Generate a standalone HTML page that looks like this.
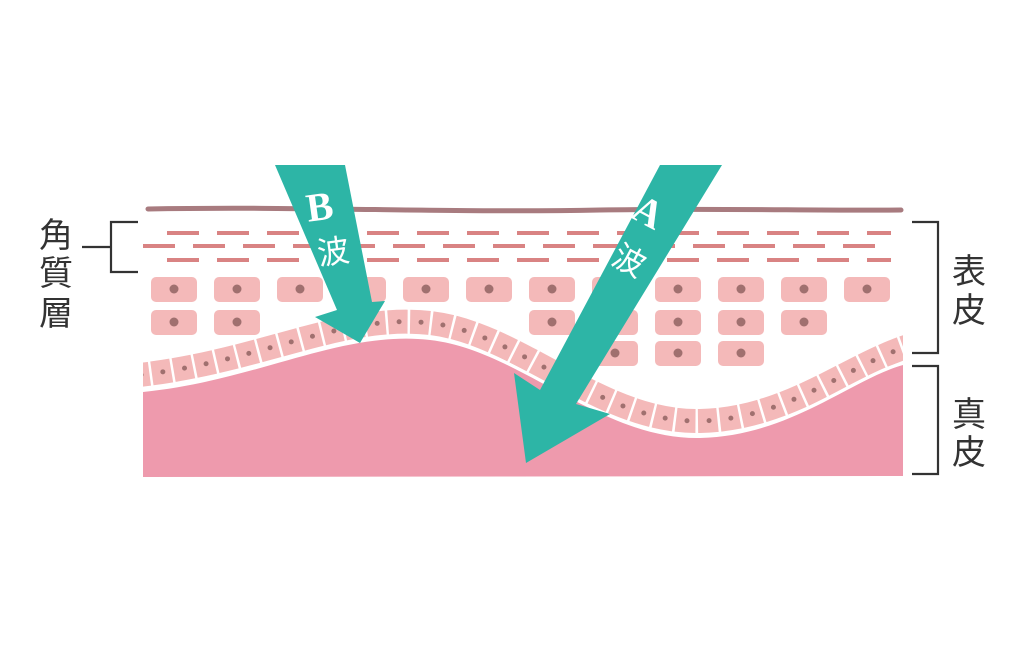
<!DOCTYPE html>
<html><head><meta charset="utf-8"><style>
html,body{margin:0;padding:0;background:#fff;}
svg{display:block}
</style></head><body>
<svg width="1024" height="646" viewBox="0 0 1024 646" xmlns="http://www.w3.org/2000/svg">
<defs><clipPath id="c"><rect x="143" y="280" width="760" height="200"/></clipPath></defs>
<rect width="1024" height="646" fill="#fff"/>
<path d="M148,209 C300,206 450,213 600,210 C720,208 820,211 901,210" stroke="#a87b7f" stroke-width="5" fill="none" stroke-linecap="round"/>
<g stroke="#d98383" stroke-width="4">
<path d="M167,233h32M217,233h32M267,233h32M317,233h32M367,233h32M417,233h32M467,233h32M517,233h32M567,233h32M617,233h32M667,233h32M717,233h32M767,233h32M817,233h32M867,233h24"/>
<path d="M143,246h32M193,246h32M243,246h32M293,246h32M343,246h32M393,246h32M443,246h32M493,246h32M543,246h32M593,246h32M643,246h32M693,246h32M743,246h32M793,246h32M843,246h32"/>
<path d="M167,260h32M217,260h32M267,260h32M317,260h32M367,260h32M417,260h32M467,260h32M517,260h32M567,260h32M617,260h32M667,260h32M717,260h32M767,260h32M817,260h32M867,260h24"/>
</g>
<g fill="#f4b9b9">
<rect x="151" y="277" width="46" height="25" rx="5"/><rect x="214" y="277" width="46" height="25" rx="5"/><rect x="277" y="277" width="46" height="25" rx="5"/><rect x="340" y="277" width="46" height="25" rx="5"/><rect x="403" y="277" width="46" height="25" rx="5"/><rect x="466" y="277" width="46" height="25" rx="5"/><rect x="529" y="277" width="46" height="25" rx="5"/><rect x="592" y="277" width="46" height="25" rx="5"/><rect x="655" y="277" width="46" height="25" rx="5"/><rect x="718" y="277" width="46" height="25" rx="5"/><rect x="781" y="277" width="46" height="25" rx="5"/><rect x="844" y="277" width="46" height="25" rx="5"/>
<rect x="151" y="310" width="46" height="25" rx="5"/><rect x="214" y="310" width="46" height="25" rx="5"/><rect x="529" y="310" width="46" height="25" rx="5"/><rect x="592" y="310" width="46" height="25" rx="5"/><rect x="655" y="310" width="46" height="25" rx="5"/><rect x="718" y="310" width="46" height="25" rx="5"/><rect x="781" y="310" width="46" height="25" rx="5"/>
<rect x="592" y="341" width="46" height="25" rx="5"/><rect x="655" y="341" width="46" height="25" rx="5"/><rect x="718" y="341" width="46" height="25" rx="5"/>
</g>
<g fill="#a0706f">
<circle cx="174" cy="289" r="4.5"/><circle cx="237" cy="289" r="4.5"/><circle cx="300" cy="289" r="4.5"/><circle cx="363" cy="289" r="4.5"/><circle cx="426" cy="289" r="4.5"/><circle cx="489" cy="289" r="4.5"/><circle cx="552" cy="289" r="4.5"/><circle cx="615" cy="289" r="4.5"/><circle cx="678" cy="289" r="4.5"/><circle cx="741" cy="289" r="4.5"/><circle cx="804" cy="289" r="4.5"/><circle cx="867" cy="289" r="4.5"/>
<circle cx="174" cy="322" r="4.5"/><circle cx="237" cy="322" r="4.5"/><circle cx="552" cy="322" r="4.5"/><circle cx="615" cy="322" r="4.5"/><circle cx="678" cy="322" r="4.5"/><circle cx="741" cy="322" r="4.5"/><circle cx="804" cy="322" r="4.5"/>
<circle cx="615" cy="353" r="4.5"/><circle cx="678" cy="353" r="4.5"/><circle cx="741" cy="353" r="4.5"/>
</g>
<g clip-path="url(#c)">
<path d="M130,376 C260,363 340,313 430,323 C520,333 600,423 700,421 C790,419 850,363 915,344" stroke="#fff" stroke-width="28" fill="none"/>
<path d="M130,376 C260,363 340,313 430,323 C520,333 600,423 700,421 C790,419 850,363 915,344" stroke="#f4b9b9" stroke-width="24" fill="none" stroke-dasharray="19.5 2.5"/>
<path d="M130,376 C260,363 340,313 430,323 C520,333 600,423 700,421 C790,419 850,363 915,344" stroke="#a0706f" stroke-width="5" fill="none" stroke-linecap="round" stroke-dasharray="0 22" stroke-dashoffset="-11"/>
</g>
<path d="M143,392 C260,380 340,330 430,340 C520,350 600,440 700,438 C790,436 850,380 903,365 L903,476 L143,477 Z" fill="#ee9aad"/>
<path d="M143,390 C260,378 340,328 430,338 C520,348 600,438 700,436 C790,434 850,378 903,363" stroke="#fff" stroke-width="3" fill="none"/>
<polygon points="275,165 345,165 372,302 385,301 360,343 315,317 337,310" fill="#2db5a6"/>
<polygon points="660,165 722,165 576,404 610,414 526,463 514,373 540,390" fill="#2db5a6"/>
<g fill="#fff" font-family="'Liberation Serif',serif" font-weight="bold" font-size="40">
<text x="306" y="220" transform="rotate(-8 320 205)">B</text>
<text x="634" y="226" transform="rotate(28 650 212)">A</text>
</g>
<g fill="#fff" font-family="'Liberation Sans','Noto Sans CJK JP',sans-serif" font-size="32">
<text x="317" y="263" transform="rotate(-8 333 250)">波</text>
<text x="614" y="272" transform="rotate(28 630 259)">波</text>
</g>
<g stroke="#333" stroke-width="2.2" fill="none">
<path d="M138,222H111V272H138M82,247H111"/>
<path d="M912,222H938V353H912"/>
<path d="M912,366H938V474H912"/>
</g>
<g fill="#333" font-family="'Liberation Sans','Noto Sans CJK JP',sans-serif" font-size="34">
<text x="39" y="247">角</text>
<text x="39" y="285">質</text>
<text x="39" y="325">層</text>
<text x="952" y="283">表</text>
<text x="952" y="322">皮</text>
<text x="952" y="426">真</text>
<text x="952" y="464">皮</text>
</g>
</svg>
</body></html>
